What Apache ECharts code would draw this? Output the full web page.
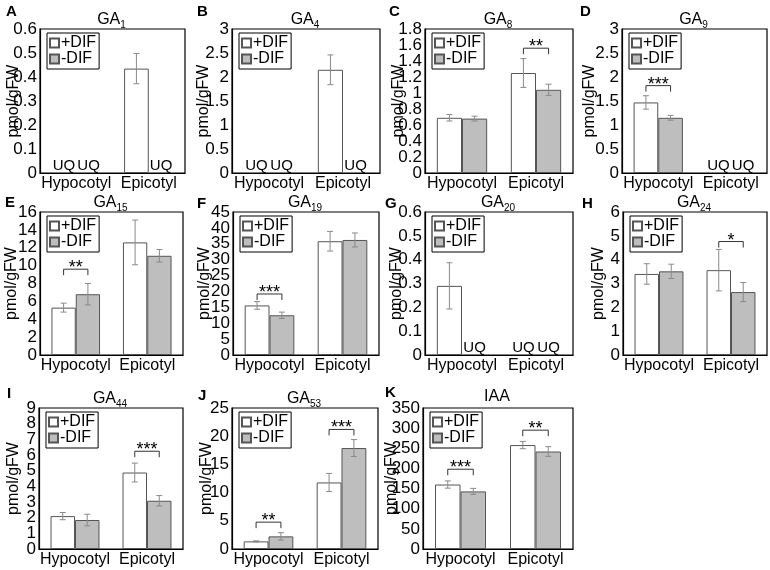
<!DOCTYPE html>
<html><head><meta charset="utf-8">
<script src="https://cdn.jsdelivr.net/npm/echarts@6/dist/echarts.min.js"></script>
<style>html,body{margin:0;padding:0;background:#fff}#c{width:770px;height:570px}</style>
</head><body><div id="c"></div>
<script>
// ---------- data ----------
const categories = ['Hypocotyl', 'Epicotyl'];
const panelLetters = ['A','B','C','D','E','F','G','H','I','J','K'];
const titleMain = ['GA','GA','GA','GA','GA','GA','GA','GA','GA','GA','IAA'];
const titleSub  = ['1','4','8','9','15','19','20','24','44','53',''];
const yMax  = [0.6, 3, 1.8, 3, 16, 45, 0.6, 6, 9, 25, 350];
const yStep = [0.1, 0.5, 0.2, 0.5, 2, 5, 0.1, 1, 1, 5, 50];
// null = UQ (unquantifiable)
const plusDIF  = [[null,0.435],[null,2.15],[0.69,1.25],[1.47,null],[5.3,12.6],[15.6,35.8],[0.29,null],[3.40,3.56],[2.10,4.88],[1.35,11.8],[160,258]];
const plusErr  = [[0,0.063],[0,0.31],[0.04,0.18],[0.14,0],[0.5,2.5],[1.2,3.1],[0.097,0],[0.43,0.87],[0.23,0.6],[0.1,1.6],[9,9]];
const minusDIF = [[null,null],[null,null],[0.68,1.04],[1.15,null],[6.8,11.1],[12.5,36.2],[null,null],[3.51,2.64],[1.85,3.08],[2.24,17.9],[143,242]];
const minusErr = [[0,0],[0,0],[0.03,0.07],[0.05,0],[1.2,0.7],[1.0,2.2],[0,0],[0.3,0.4],[0.37,0.33],[0.65,1.5],[7.5,12]];
// significance: [category index, bracket level, number of stars]
const signif = [[],[],[[1,1.56,2]],[[0,1.82,3]],[[0,9.6,2]],[[0,19.2,3]],[],[[1,4.76,1]],[[1,6.24,3]],[[0,4.76,2],[1,21.2,3]],[[0,198,3],[1,295,2]]];

// ---------- layout ----------
const FF = '"Liberation Sans", Arial, Helvetica, sans-serif';
const grids = [
  [40,29,145,144],[232,29,148,144],[425,29,148,144],[622,29,145,144],
  [40,212,143,143],[233,212,146,143],[425,212,148,143],[623,212,144,143],
  [39,408,144,141],[232,408,146,141],[423,408,150,141]
];
const nameGaps = [18,20,18,24,20,20,20,16,17,17,23];
const letterPos = [[6,4],[197,4],[389,4],[580,4],[5,195],[197,196],[385,196],[582,196],[7,386],[198,388],[385,385]];
const titleTops = [10,10,10,10,193,193,193,193,389,389,389];

const option = {
  animation: false,
  textStyle: {fontFamily: FF},
  grid: [], xAxis: [], yAxis: [], series: [], legend: [], title: [], graphic: []
};

function uqItem(){
  return {value: 0, itemStyle: {color: 'rgba(0,0,0,0)', borderWidth: 0},
    label: {show: true, position: 'top', distance: 0, formatter: 'UQ', fontSize: 15, color: '#000', fontFamily: FF}};
}

for (let i = 0; i < 11; i++) {
  const [gl, gt, gw, gh] = grids[i];
  option.grid.push({left: gl, top: gt, width: gw, height: gh, show: true, borderColor: '#000', borderWidth: 1.2, containLabel: false});
  option.xAxis.push({type: 'category', gridIndex: i, data: categories,
    axisTick: {show: false}, axisLine: {lineStyle: {color: '#000', width: 1.2}},
    axisLabel: {color: '#000', fontSize: 16, margin: 3, interval: 0, fontFamily: FF}});
  option.yAxis.push({type: 'value', gridIndex: i, min: 0, max: yMax[i], interval: yStep[i],
    splitLine: {show: false}, axisTick: {show: false},
    axisLine: {show: true, lineStyle: {color: '#000', width: 1.2}},
    axisLabel: {show: false},
    name: 'pmol/gFW', nameLocation: 'middle', nameRotate: 90, nameGap: nameGaps[i],
    nameTextStyle: {color: '#000', fontSize: 16, fontFamily: FF}});
  // y tick labels (drawn at the axis scale positions so none get auto-hidden)
  const ticks = [];
  const nT = Math.round(yMax[i] / yStep[i]);
  for (let k = 0; k <= nT; k++) ticks.push([0, parseFloat((k * yStep[i]).toFixed(4))]);
  option.series.push({type: 'custom', xAxisIndex: i, yAxisIndex: i, silent: true, z: 12, clip: false,
    encode: {x: 0, y: 1}, data: ticks,
    renderItem: function(params, api){
      const v = api.value(1);
      const y = api.coord([0, v])[1];
      return {type: 'text', style: {x: params.coordSys.x - 3, y: y, text: String(v),
        fontSize: 17, fontFamily: FF, fill: '#000', align: 'right', verticalAlign: 'middle'}};
    }});
  option.series.push({type: 'bar', name: '+DIF', xAxisIndex: i, yAxisIndex: i,
    barWidth: '34%', barGap: '0%',
    itemStyle: {color: '#ffffff', borderColor: '#555', borderWidth: 1},
    data: plusDIF[i].map(v => v == null ? uqItem() : v)});
  option.series.push({type: 'bar', name: '-DIF', xAxisIndex: i, yAxisIndex: i,
    barWidth: '34%', barGap: '0%',
    itemStyle: {color: '#bebebe', borderColor: '#555', borderWidth: 1},
    data: minusDIF[i].map(v => v == null ? uqItem() : v)});
  // error bars
  const ed = [];
  for (let c = 0; c < 2; c++) {
    if (plusDIF[i][c] != null && plusErr[i][c] > 0) ed.push([c, plusDIF[i][c], plusErr[i][c], 0]);
    if (minusDIF[i][c] != null && minusErr[i][c] > 0) ed.push([c, minusDIF[i][c], minusErr[i][c], 1]);
  }
  option.series.push({type: 'custom', xAxisIndex: i, yAxisIndex: i, silent: true, z: 10,
    encode: {x: 0, y: 1}, data: ed,
    renderItem: function(params, api){
      const cat = api.value(0), v = api.value(1), e = api.value(2), s = api.value(3);
      const bw = api.size([1, 0])[0] * 0.34;
      const cx = api.coord([cat, v])[0] + (s === 0 ? -bw/2 : bw/2);
      const yt = api.coord([cat, v + e])[1], yb = api.coord([cat, v - e])[1];
      const st = {stroke: '#8a8a8a', lineWidth: 1};
      return {type: 'group', children: [
        {type: 'line', shape: {x1: cx, y1: yt, x2: cx, y2: yb}, style: st},
        {type: 'line', shape: {x1: cx-3, y1: yt, x2: cx+3, y2: yt}, style: st},
        {type: 'line', shape: {x1: cx-3, y1: yb, x2: cx+3, y2: yb}, style: st}
      ]};
    }});
  // significance brackets
  if (signif[i].length) {
    option.series.push({type: 'custom', xAxisIndex: i, yAxisIndex: i, silent: true, z: 11,
      encode: {x: 0, y: 1}, data: signif[i],
      renderItem: function(params, api){
        const cat = api.value(0), lv = api.value(1), n = api.value(2);
        const bw = api.size([1, 0])[0] * 0.34;
        const p = api.coord([cat, lv]);
        const x1 = p[0] - bw/2, x2 = p[0] + bw/2, y = p[1];
        return {type: 'group', children: [
          {type: 'polyline', shape: {points: [[x1, y+6], [x1, y], [x2, y], [x2, y+6]]},
           style: {stroke: '#333', lineWidth: 1, fill: null}},
          {type: 'text', style: {x: p[0], y: y - 1, text: '*'.repeat(n), fontSize: 18, fontFamily: FF,
            fill: '#000', align: 'center', verticalAlign: 'middle'}}
        ]};
      }});
  }
  option.legend.push({orient: 'vertical', left: gl + 7, top: gt + 4, data: ['+DIF', '-DIF'],
    icon: 'rect', itemWidth: 9, itemHeight: 9, itemGap: 0, selectedMode: false,
    borderColor: '#000', borderWidth: 1, backgroundColor: '#fff', padding: [2, 3, 2, 2],
    textStyle: {color: '#000', fontSize: 16, lineHeight: 14, fontFamily: FF, padding: [0,0,0,-3]}});
  option.title.push({left: gl + gw/2 - 1, top: titleTops[i], textAlign: 'center', padding: 0,
    text: titleSub[i] ? '{m|' + titleMain[i] + '}{s|' + titleSub[i] + '}' : '{m|' + titleMain[i] + '}',
    textStyle: {fontWeight: 'normal', rich: {
      m: {fontSize: 16, color: '#000', fontFamily: FF, fontWeight: 'normal', lineHeight: 16},
      s: {fontSize: 10, color: '#000', fontFamily: FF, fontWeight: 'normal', padding: [10, 0, 0, 0]}
    }}});
  option.graphic.push({type: 'text', left: letterPos[i][0], top: letterPos[i][1],
    style: {text: panelLetters[i], font: 'bold 15px ' + FF, fill: '#000'}});
}

const chart = echarts.init(document.getElementById('c'), null, {renderer: 'canvas'});
chart.setOption(option);
</script>
</body></html>
